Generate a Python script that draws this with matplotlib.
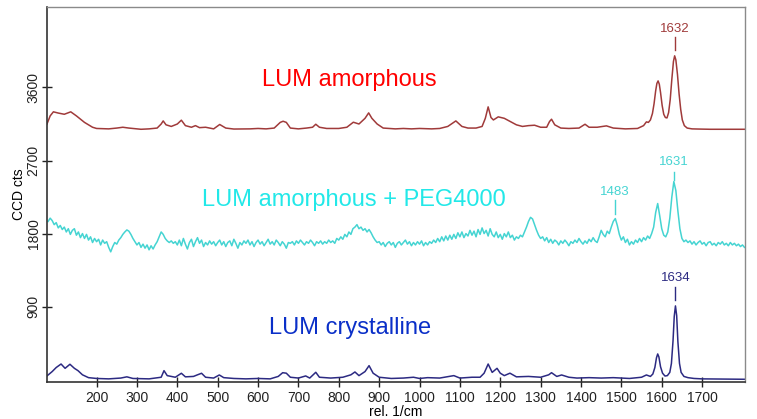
import matplotlib
matplotlib.use("Agg")
from matplotlib import pyplot as plt

plt.rcParams['font.family'] = ['Liberation Sans', 'DejaVu Sans']

# LUM amorphous (red)
red_x = [77, 85, 93, 105, 120, 136, 150, 170, 190, 200, 230, 250, 265, 280, 300, 310, 330, 350, 360, 365,
         372, 385, 400, 410, 420, 435, 445, 455, 470, 490, 505, 520, 540, 580, 600, 620, 640, 655, 662, 670,
         680, 700, 720, 735, 743, 752, 770, 800, 820, 836, 850, 865, 874, 882, 895, 910, 940, 960, 980, 1000,
         1030, 1050, 1070, 1090, 1105, 1120, 1140, 1155, 1163, 1170, 1177, 1183, 1195, 1210, 1225, 1240, 1255,
         1270, 1285, 1300, 1315, 1322, 1327, 1335, 1350, 1370, 1395, 1410, 1420, 1440, 1463, 1480, 1510, 1540,
         1555, 1562, 1567, 1572, 1577, 1581, 1585, 1588, 1591, 1594, 1597, 1601, 1605, 1609, 1613, 1617, 1621,
         1625, 1629, 1632, 1635, 1639, 1643, 1647, 1651, 1656, 1663, 1675, 1690, 1720, 1806]
red_y = [3148, 3250, 3300, 3285, 3270, 3300, 3250, 3170, 3110, 3095, 3090, 3100, 3110, 3100, 3090, 3085, 3090,
         3100, 3150, 3188, 3140, 3120, 3150, 3197, 3130, 3110, 3130, 3105, 3110, 3090, 3144, 3100, 3088, 3090,
         3095, 3090, 3100, 3170, 3184, 3170, 3100, 3090, 3100, 3110, 3147, 3110, 3095, 3095, 3110, 3172, 3150,
         3220, 3287, 3220, 3150, 3100, 3090, 3095, 3090, 3095, 3090, 3095, 3120, 3188, 3120, 3100, 3100, 3120,
         3220, 3361, 3230, 3200, 3238, 3220, 3180, 3140, 3120, 3130, 3135, 3110, 3110, 3180, 3209, 3140, 3100,
         3095, 3100, 3147, 3110, 3110, 3127, 3100, 3090, 3095,
         3130, 3176, 3170, 3200, 3280, 3400, 3560, 3650, 3681, 3640, 3540, 3380, 3270, 3230, 3225, 3290, 3450,
         3700, 3920, 3990, 3940, 3760, 3520, 3330, 3200, 3130, 3100, 3090, 3088, 3085, 3085]

# LUM amorphous + PEG4000 (cyan), one value every 5 cm-1 from 80 to 1805
cyan_x = [80 + 5 * i for i in range(346)]
cyan_y = [1950, 1990, 1960, 1910, 1935, 1870, 1900, 1850, 1880, 1820, 1860, 1790, 1840, 1860, 1780, 1820, 1750, 1800, 1740, 1790,
          1720, 1760, 1690, 1740, 1700, 1730, 1660, 1720, 1680, 1700, 1630, 1575, 1640, 1690, 1670, 1720, 1750, 1790, 1820, 1845,
          1830, 1790, 1740, 1700, 1660, 1690, 1630, 1670, 1620, 1660, 1600, 1650, 1610, 1660, 1700, 1760, 1820, 1790, 1740, 1710,
          1690, 1710, 1680, 1700, 1660, 1720, 1650, 1740, 1670, 1610, 1690, 1730, 1640, 1700, 1750, 1680, 1720, 1640, 1690, 1660,
          1710, 1670, 1700, 1650, 1690, 1720, 1660, 1700, 1640, 1690, 1710, 1650, 1730, 1680, 1620, 1690, 1660, 1710, 1680, 1720,
          1660, 1700, 1640, 1690, 1720, 1670, 1700, 1650, 1690, 1730, 1670, 1700, 1660, 1720, 1690, 1650, 1700, 1670, 1620, 1690,
          1680, 1700, 1660, 1710, 1680, 1720, 1690, 1660, 1700, 1680, 1720, 1690, 1650, 1700, 1680, 1710, 1670, 1700, 1680, 1720,
          1690, 1710, 1680, 1740, 1720, 1760, 1730, 1790, 1760, 1820, 1790, 1860, 1880, 1910, 1860, 1880, 1840, 1860, 1820, 1850,
          1810, 1760, 1720, 1690, 1700, 1660, 1690, 1640, 1680, 1700, 1660, 1690, 1630, 1680, 1700, 1660, 1690, 1720, 1670, 1700,
          1650, 1690, 1660, 1700, 1670, 1710, 1650, 1690, 1660, 1700, 1680, 1720, 1690, 1740, 1700, 1760, 1710, 1770, 1720, 1780,
          1730, 1790, 1740, 1810, 1760, 1820, 1750, 1800, 1770, 1840, 1780, 1830, 1760, 1850, 1790, 1870, 1800, 1840, 1770, 1860,
          1790, 1760, 1820, 1750, 1790, 1730, 1800, 1760, 1820, 1750, 1780, 1720, 1760, 1740, 1780, 1760, 1820, 1880, 1950, 2000,
          1980, 1910, 1840, 1780, 1740, 1760, 1710, 1750, 1690, 1730, 1680, 1720, 1700, 1660, 1710, 1680, 1720, 1690, 1650, 1700,
          1680, 1720, 1690, 1740, 1700, 1670, 1710, 1680, 1730, 1700, 1750, 1710, 1690, 1760, 1840, 1790, 1760, 1830, 1800, 1880,
          1950, 1985, 1900, 1790, 1720, 1760, 1690, 1730, 1660, 1700, 1670, 1720, 1690, 1740, 1700, 1750, 1720, 1770, 1740, 1800,
          1880, 2060, 2170, 2020, 1860, 1780, 1760, 1820, 1990, 2250, 2440, 2330, 2080, 1860, 1740, 1700, 1720, 1690, 1710, 1670,
          1700, 1660, 1690, 1710, 1670, 1690, 1650, 1690, 1700, 1660, 1680, 1650, 1690, 1670, 1700, 1660, 1680, 1650, 1690, 1660,
          1680, 1650, 1670, 1640, 1660, 1630]

# LUM crystalline (blue)
blue_x = [77, 90, 100, 112, 122, 134, 145, 154, 165, 180, 200, 230, 260, 275, 290, 330, 360, 367, 375, 395,
          410, 420, 440, 450, 460, 470, 490, 504, 515, 540, 570, 600, 630, 650, 661, 670, 680, 700, 718, 728,
          743, 752, 780, 810, 830, 840, 850, 865, 875, 885, 900, 930, 960, 985, 1000, 1020, 1050, 1085, 1100,
          1130, 1150, 1160, 1170, 1180, 1192, 1200, 1210, 1224, 1240, 1270, 1300, 1320, 1327, 1340, 1352, 1370,
          1390, 1420, 1450, 1480, 1520, 1550, 1562, 1572, 1578, 1583, 1587, 1590, 1593, 1597, 1602, 1608, 1614,
          1620, 1624, 1628, 1631, 1634, 1637, 1640, 1644, 1648, 1655, 1665, 1680, 1700, 1806]
blue_y = [46, 100, 150, 193, 140, 190, 140, 111, 60, 25, 15, 10, 20, 35, 15, 10, 30, 111, 50, 30, 79, 35, 40,
          60, 79, 30, 20, 58, 25, 15, 10, 15, 10, 40, 86, 80, 30, 20, 46, 20, 91, 30, 20, 30, 60, 95, 50, 100,
          173, 80, 30, 15, 20, 30, 15, 25, 20, 50, 20, 30, 30, 80, 193, 90, 140, 80, 50, 80, 35, 40, 30, 60, 86,
          40, 58, 30, 20, 25, 20, 25, 15, 30, 58, 40, 70, 150, 270, 317, 280, 160, 80, 45, 50,
          90, 200, 480, 780, 909, 790, 470, 200, 90, 40, 25, 15, 10, 5]

x_ticks = [200, 300, 400, 500, 600, 700, 800, 900, 1000, 1100, 1200, 1300, 1400, 1500, 1600, 1700]
y_ticks = [900, 1800, 2700, 3600]

red_line = '#a03a3a'
cyan_line = '#45d4d2'
blue_line = '#2c2a82'

fig = plt.figure(figsize=(7.57, 4.19), dpi=100)
ax = fig.add_axes([0.062, 0.089, 0.922, 0.894])

ax.plot(red_x, red_y, color=red_line, lw=1.1)
ax.plot(cyan_x, cyan_y, color=cyan_line, lw=1.1)
ax.plot(blue_x, blue_y, color=blue_line, lw=1.1)

ax.set_xlim(77, 1806)
ax.set_ylim(-25, 4590)
ax.set_xticks(x_ticks)
ax.set_yticks(y_ticks)
ax.tick_params(direction='inout', length=7, width=1, labelsize=10, colors='#222222')
ax.tick_params(axis='y', pad=1)
for lab in ax.get_yticklabels():
    lab.set_rotation(90)
    lab.set_va('center')
ax.set_xlabel('rel. 1/cm', fontsize=10, labelpad=0)
ax.set_ylabel('CCD cts', fontsize=10)
ax.yaxis.set_label_coords(-0.030, 0.5)

for s in ['left', 'bottom']:
    ax.spines[s].set_color('#333333')
    ax.spines[s].set_linewidth(1.2)
for s in ['top', 'right']:
    ax.spines[s].set_color('#8a8a8a')
    ax.spines[s].set_linewidth(1.0)

# series names
ax.text(827, 3690, 'LUM amorphous', color='#ff0000', fontsize=17, ha='center', va='center')
ax.text(837, 2210, 'LUM amorphous + PEG4000', color='#22e8e8', fontsize=17, ha='center', va='center')
ax.text(828, 637, 'LUM crystalline', color='#0a2fc8', fontsize=17, ha='center', va='center')

# peak labels
peaks = [(1632, 4319, 4220, 4060, red_line),
         (1631, 2679, 2559, 2456, cyan_line),
         (1483, 2313, 2219, 2046, cyan_line),
         (1634, 1252, 1141, 986, blue_line)]
for px, ty, y0, y1, c in peaks:
    ax.text(px, ty, str(px), color=c, fontsize=9.5, ha='center', va='center')
    ax.plot([px, px], [y0, y1], color=c, lw=1)

fig.savefig('out.png', dpi=100)
